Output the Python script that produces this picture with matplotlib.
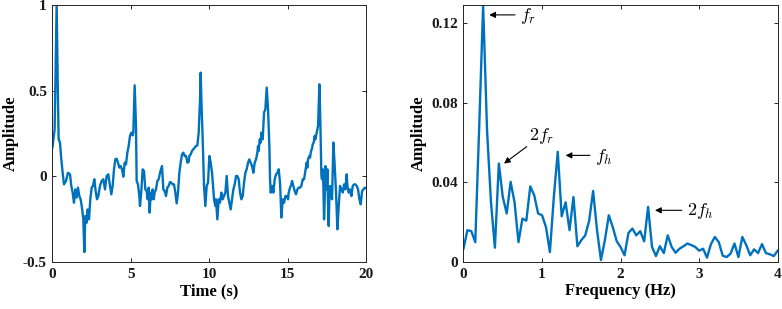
import numpy as np
import matplotlib
matplotlib.use("Agg")
import matplotlib.pyplot as plt

plt.rcParams['font.family'] = ['Liberation Serif', 'DejaVu Serif']
plt.rcParams['mathtext.fontset'] = 'cm'

# ---- time signal
t = [0.0, 0.138, 0.266, 0.35, 0.393, 0.478, 0.563, 0.649, 0.734, 0.861, 0.989, 1.117, 1.201, 1.287,
     1.372, 1.457, 1.542, 1.627, 1.712, 1.797, 1.882, 1.967, 2.031, 2.095, 2.18, 2.244, 2.329, 2.414,
     2.499, 2.584, 2.669, 2.754, 2.839, 2.924, 3.03, 3.137, 3.243, 3.35, 3.456, 3.562, 3.669, 3.754,
     3.839, 3.924, 4.009, 4.094, 4.179, 4.264, 4.35, 4.435, 4.52, 4.605, 4.69, 4.775, 4.86, 4.945,
     5.03, 5.114, 5.157, 5.242, 5.327, 5.369, 5.454, 5.54, 5.582, 5.667, 5.752, 5.837, 5.922, 6.008,
     6.071, 6.135, 6.199, 6.263, 6.327, 6.39, 6.454, 6.518, 6.603, 6.688, 6.773, 6.858, 6.986, 7.071,
     7.156, 7.241, 7.326, 7.411, 7.496, 7.582, 7.667, 7.752, 7.837, 7.922, 8.007, 8.092, 8.177, 8.262,
     8.347, 8.432, 8.517, 8.602, 8.687, 8.73, 8.815, 8.9, 8.985, 9.07, 9.155, 9.24, 9.326, 9.411,
     9.453, 9.496, 9.581, 9.666, 9.751, 9.836, 9.921, 10.006, 10.091, 10.176, 10.218, 10.303, 10.388,
     10.43, 10.516, 10.601, 10.686, 10.771, 10.856, 10.941, 11.026, 11.111, 11.196, 11.281, 11.366,
     11.451, 11.537, 11.622, 11.707, 11.792, 11.877, 11.962, 12.047, 12.132, 12.217, 12.302, 12.387,
     12.472, 12.557, 12.643, 12.728, 12.813, 12.898, 12.983, 13.068, 13.111, 13.153, 13.217, 13.281,
     13.323, 13.408, 13.493, 13.578, 13.664, 13.749, 13.834, 13.876, 13.919, 14.004, 14.089, 14.174,
     14.259, 14.344, 14.429, 14.514, 14.6, 14.685, 14.77, 14.855, 14.94, 15.025, 15.066, 15.151,
     15.236, 15.279, 15.364, 15.449, 15.534, 15.619, 15.704, 15.789, 15.874, 15.96, 16.045, 16.13,
     16.215, 16.257, 16.3, 16.385, 16.427, 16.491, 16.555, 16.598, 16.661, 16.725, 16.768, 16.853,
     16.938, 16.98, 17.023, 17.065, 17.108, 17.151, 17.193, 17.236, 17.278, 17.321, 17.363, 17.406,
     17.448, 17.491, 17.534, 17.576, 17.619, 17.661, 17.704, 17.746, 17.831, 17.916, 18.001, 18.086,
     18.172, 18.257, 18.342, 18.427, 18.512, 18.597, 18.682, 18.767, 18.81, 18.895, 18.98, 19.065,
     19.15, 19.235, 19.32, 19.405, 19.49, 19.576, 19.661, 19.746, 19.831, 19.916, 20.0]
amp = [0.17, 0.274, 1.0, 0.45, 0.216, 0.197, 0.099, 0.021, -0.047, -0.027, 0.021, 0.012, -0.056, -0.095,
       -0.154, -0.076, -0.124, -0.066, -0.115, -0.134, -0.183, -0.251, -0.442, -0.231, -0.27, -0.193, -0.251, -0.134,
       -0.066, -0.056, -0.017, -0.086, -0.134, -0.115, -0.056, -0.027, -0.017, -0.076, 0.002, 0.012, -0.056, -0.105,
       -0.056, 0.041, 0.099, 0.103, 0.08, 0.051, 0.06, 0.041, -0.002, 0.08, 0.07, 0.138, 0.177, 0.236,
       0.255, 0.239, 0.255, 0.531, 0.294, -0.027, -0.047, -0.115, -0.173, -0.086, 0.041, 0.031, -0.076, -0.086,
       -0.134, -0.066, -0.212, -0.095, -0.134, -0.076, -0.134, -0.095, -0.076, -0.027, -0.017, 0.021, 0.06, -0.076,
       -0.086, -0.115, -0.066, -0.056, -0.033, -0.037, -0.047, -0.047, -0.095, -0.158, -0.095, 0.021, 0.08, 0.128,
       0.138, 0.119, 0.119, 0.08, 0.084, 0.119, 0.128, 0.148, 0.158, 0.167, 0.177, 0.181, 0.255, 0.45,
       0.605, 0.45, 0.216, -0.056, -0.173, -0.056, -0.037, 0.119, 0.08, 0.021, -0.027, -0.134, -0.173,
       -0.134, -0.251, -0.134, -0.154, -0.095, -0.134, -0.115, -0.095, 0.002, -0.115, -0.154, -0.193,
       -0.134, -0.076, -0.047, 0.002, 0.002, -0.017, -0.095, -0.134, -0.115, -0.037, 0.021, 0.041,
       0.08, 0.099, 0.08, 0.06, 0.021, 0.08, 0.099, 0.138, 0.177, 0.148, 0.216, 0.197,
       0.255, 0.216, 0.372, 0.391, 0.518, 0.391, 0.177, -0.017, -0.095, -0.056, -0.095, -0.017,
       0.012, 0.021, 0.041, -0.037, -0.24, -0.134, -0.154, -0.115, -0.115, -0.134, -0.095, -0.066,
       -0.047, -0.027, -0.056, -0.086, -0.105, -0.076, -0.066, -0.066, -0.056, -0.017, -0.017, 0.031,
       0.08, 0.051, 0.099, 0.119, 0.109, 0.148, 0.162, 0.187, 0.197, 0.236, 0.216, 0.255,
       0.294, 0.411, 0.537, 0.391, 0.216, 0.002, -0.017, 0.041, -0.056, -0.251, -0.134, 0.06,
       -0.017, -0.076, 0.041, -0.173, -0.29, -0.115, -0.056, -0.095, -0.134, 0.197, 0.06, -0.095,
       -0.309, -0.173, -0.056, -0.076, -0.095, -0.047, -0.076, 0.012, -0.056, -0.095, -0.076, -0.115,
       -0.056, -0.047, -0.047, -0.056, -0.076, -0.134, -0.163, -0.086, -0.076, -0.066, -0.07]

# ---- spectrum (0.05 Hz spacing)
freq = np.arange(0, 4.001, 0.05)
spec = [0.0067, 0.016, 0.0155, 0.010, 0.068, 0.129, 0.066, 0.030, 0.0072, 0.0495,
        0.0327, 0.0244, 0.0403, 0.030, 0.010, 0.0218, 0.0208, 0.038, 0.0336, 0.0244,
        0.0235, 0.0176, 0.005, 0.0327, 0.0554, 0.023, 0.030, 0.016, 0.0327, 0.0079,
        0.011, 0.0134, 0.0208, 0.0357, 0.016, 0.001, 0.011, 0.0235, 0.0176, 0.0105,
        0.0075, 0.0034, 0.0146, 0.0168, 0.0134, 0.0155, 0.0104, 0.0277, 0.0076, 0.003,
        0.008, 0.0045, 0.0134, 0.0076, 0.0047, 0.0067, 0.0079, 0.0093, 0.0085, 0.0076,
        0.0057, 0.0067, 0.0022, 0.009, 0.0126, 0.010, 0.0032, 0.0025, 0.0042, 0.0093,
        0.0025, 0.0126, 0.0085, 0.0034, 0.0064, 0.0045, 0.009, 0.0045, 0.0039, 0.003,
        0.0057]

blue = '#0072BD'
fig = plt.figure(figsize=(7.82, 3.09), dpi=100)
ax1 = fig.add_axes([0.0671, 0.152, 0.401, 0.832])
ax2 = fig.add_axes([0.5927, 0.152, 0.4018, 0.832])

ax1.plot(t, amp, color=blue, lw=1.7)
ax1.set_xlim(0, 20)
ax1.set_ylim(-0.5, 1)
ax1.set_xticks([0, 5, 10, 15, 20])
ax1.set_yticks([-0.5, 0, 0.5, 1])
ax1.set_yticklabels(['-0.5', '0', '0.5', '1'])
ax1.set_xlabel('Time (s)', fontsize=12, fontweight='bold', labelpad=2)
ax1.set_ylabel('Amplitude', fontsize=12, fontweight='bold', labelpad=3)

ax2.plot(freq, spec, color=blue, lw=1.7)
ax2.set_xlim(0, 4)
ax2.set_ylim(0, 0.1292)
ax2.set_xticks([0, 1, 2, 3, 4])
ax2.set_yticks([0, 0.04, 0.08, 0.12])
ax2.set_yticklabels(['0', '0.04', '0.08', '0.12'])
ax2.set_xlabel('Frequency (Hz)', fontsize=12, fontweight='bold', labelpad=2)
ax2.set_ylabel('Amplitude', fontsize=12, fontweight='bold', labelpad=3)

for ax in (ax1, ax2):
    ax.tick_params(direction='in', length=3, width=0.7, top=True, right=True,
                   labelsize=11, colors='#262626', labelcolor='#1a1a1a', pad=4)
    for lab in ax.get_xticklabels() + ax.get_yticklabels():
        lab.set_fontweight('bold')
    for s in ax.spines.values():
        s.set_color('#262626')
        s.set_linewidth(0.7)

# annotations on the spectrum
arrow = dict(arrowstyle='-|>', color='black', lw=0.8, mutation_scale=9, shrinkA=0, shrinkB=0)
notes = [('$f_r$', (0.328, 0.1242), (0.656, 0.1242), (0.72, 0.1235)),
         ('$2f_r$', (0.516, 0.0495), (0.805, 0.058), (0.83, 0.0635)),
         ('$f_h$', (1.30, 0.0536), (1.61, 0.0536), (1.68, 0.0529)),
         ('$2f_h$', (2.438, 0.026), (2.78, 0.026), (2.85, 0.0255))]
for txt, head, tail, pos in notes:
    ax2.annotate('', xy=head, xytext=tail, arrowprops=arrow)
    ax2.text(pos[0], pos[1], txt, fontsize=13, ha='left', va='center')

fig.savefig('out.png', dpi=100)
